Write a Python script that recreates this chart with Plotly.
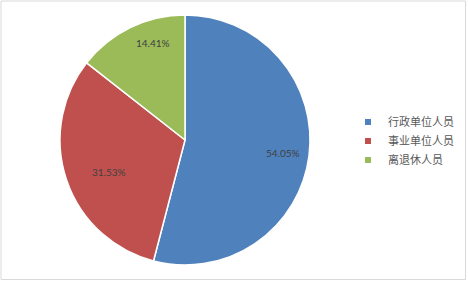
import math
import plotly.graph_objects as go

categories = ["行政单位人员", "事业单位人员", "离退休人员"]
values = [54.05, 31.53, 14.41]
colors = ["#4F81BD", "#C0504D", "#9BBB59"]
label_radius = [0.79, 0.80, 0.93]

W, H = 468, 282
cx, cy, R = 185, 140, 125

fig = go.Figure()
fig.add_trace(go.Pie(
    labels=categories, values=values, sort=False, direction="clockwise",
    rotation=0, textinfo="none", hoverinfo="label+percent",
    marker=dict(colors=colors, line=dict(color="white", width=1.5)),
    domain=dict(x=[(cx - R) / W, (cx + R) / W], y=[(H - cy - R) / H, (H - cy + R) / H]),
    showlegend=False,
))

# legend entries with small square swatches
for name, col in zip(categories, colors):
    fig.add_trace(go.Scatter(x=[None], y=[None], mode="markers", name=name,
                             marker=dict(symbol="square", size=6, color=col),
                             hoverinfo="skip"))

total = sum(values)
start = 0.0
for v, rf in zip(values, label_radius):
    mid = start + v / total * 360 / 2
    start += v / total * 360
    a = math.radians(mid)
    px = cx + math.sin(a) * R * rf
    py = cy - math.cos(a) * R * rf
    fig.add_annotation(x=px / W, y=1 - py / H, xref="paper", yref="paper",
                       text=f"{v:.2f}%", showarrow=False,
                       font=dict(size=10, color="#404040", family="Lato"))

fig.add_shape(type="rect", xref="paper", yref="paper",
              x0=1 / W, x1=465.5 / W, y0=1 - 279.5 / H, y1=1 - 1 / H,
              line=dict(color="#D9D9D9", width=1), fillcolor="rgba(0,0,0,0)")

fig.update_layout(
    width=W, height=H, margin=dict(l=0, r=0, t=0, b=0),
    paper_bgcolor="white", plot_bgcolor="white",
    xaxis=dict(visible=False), yaxis=dict(visible=False),
    legend=dict(x=348 / W, y=0.5, xanchor="left", yanchor="middle",
                font=dict(size=11, color="#595959", family="Noto Sans CJK SC"),
                bgcolor="rgba(0,0,0,0)"),
)

fig.write_html("out.html")
